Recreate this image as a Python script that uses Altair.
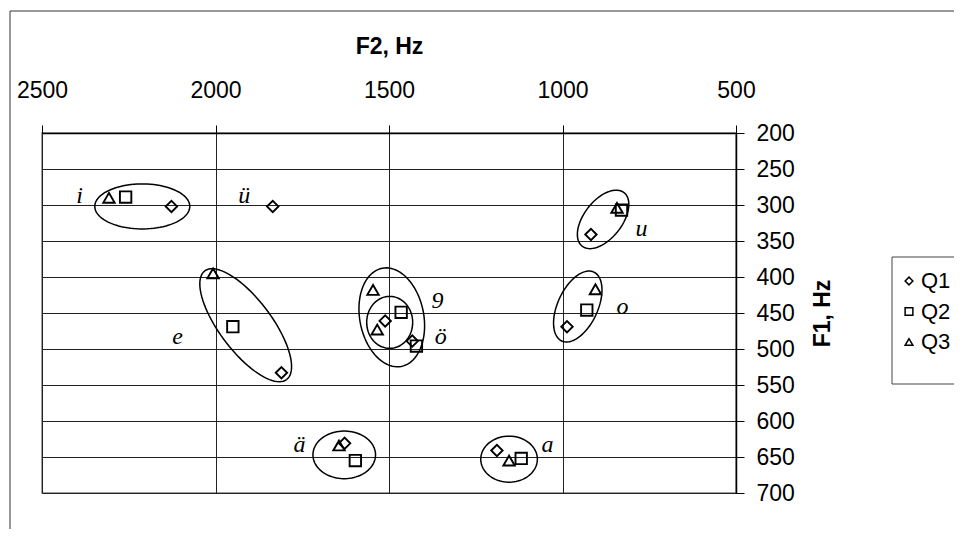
import math
import numpy as np
import pandas as pd
import altair as alt

# ---- data ----
vowels = ["i", "ü", "e", "9", "ö", "ä", "a", "o", "u"]
q1_f2 = [2127, 1835, 1810, 1511, 1433, 1628, 1189, 987, 918]
q1_f1 = [302, 302, 533, 461, 489, 631, 641, 469, 341]
q2_f2 = [2259, None, 1950, 1465, 1421, 1597, 1119, 930, 830]
q2_f1 = [289, None, 469, 449, 496, 655, 652, 446, 307]
q3_f2 = [2307, None, 2007, 1534, 1546, 1644, 1154, 905, 843]
q3_f1 = [290, None, 395, 473, 418, 634, 655, 417, 304]

series = ["Q1", "Q2", "Q3"]
shapes = ["diamond", "square", "triangle-up"]

label_f2 = [2392, 1917, 2109, 1360, 1351, 1758, 1043, 827, 772]
label_f1 = [288, 288, 484, 434, 484, 634, 634, 441, 334]

x_ticks = [2500, 2000, 1500, 1000, 500]
y_ticks = [200, 250, 300, 350, 400, 450, 500, 550, 600, 650, 700]

# ellipse annotations: centre (F2, F1), semi-axes (px), rotation (deg)
ell_names = ["i", "e", "9in", "9out", "ä", "a", "o", "u"]
ell_cf2 = [2211, 1913, 1498, 1492, 1629, 1154, 956, 883]
ell_cf1 = [302, 467, 463, 456, 647, 653, 441, 320]
ell_a = [47.5, 68, 23, 50, 31.3, 28.3, 38, 34]
ell_b = [22.5, 26, 26, 32, 23.8, 23, 20, 19]
ell_rot = [0, 53, 0, 79, 0, 0, -65, -52]

W, H = 694, 360
hz_per_px_x = (x_ticks[0] - x_ticks[-1]) / W
hz_per_px_y = (y_ticks[-1] - y_ticks[0]) / H

# ---- tables ----
rows = []
for q, f2s, f1s in zip(series, [q1_f2, q2_f2, q3_f2], [q1_f1, q2_f1, q3_f1]):
    for v, a, b in zip(vowels, f2s, f1s):
        if a is not None:
            rows.append({"vowel": v, "Q": q, "F2": a, "F1": b})
pts_df = pd.DataFrame(rows)

lab_df = pd.DataFrame({"v": vowels, "F2": label_f2, "F1": label_f1})

erows = []
ts = np.linspace(0, 2 * np.pi, 91)
for n, cx, cy, a, b, r in zip(ell_names, ell_cf2, ell_cf1, ell_a, ell_b, ell_rot):
    th = math.radians(r)
    for k, t in enumerate(ts):
        px = a * math.cos(t) * math.cos(th) - b * math.sin(t) * math.sin(th)
        py = a * math.cos(t) * math.sin(th) + b * math.sin(t) * math.cos(th)
        erows.append({"ell": n, "k": k, "F2": cx - px * hz_per_px_x, "F1": cy + py * hz_per_px_y})
ell_df = pd.DataFrame(erows)

one = pd.DataFrame({"z": [0]})

# ---- scales / axes ----
FONT = "Liberation Sans"
xs = alt.Scale(domain=[x_ticks[0], x_ticks[-1]], nice=False, zero=False)
ys = alt.Scale(domain=[y_ticks[0], y_ticks[-1]], nice=False, zero=False, reverse=True)

xaxis = alt.Axis(orient="top", values=x_ticks, format="d", labelFont=FONT, labelFontSize=23,
                 labelColor="black", labelPadding=23, labelFlush=False, labelOverlap=False,
                 tickSize=8, tickColor="black", tickWidth=1, domainColor="black", domainWidth=1.5,
                 grid=True, gridColor="#222", gridWidth=1,
                 title="F2, Hz", titleFont=FONT, titleFontSize=23, titleFontWeight="bold",
                 titleColor="black", titlePadding=21)
yaxis = alt.Axis(orient="right", values=y_ticks, format="d", labelFont=FONT, labelFontSize=23,
                 labelColor="black", labelPadding=12, labelOverlap=False,
                 tickSize=8, tickColor="black", tickWidth=1, domainColor="black", domainWidth=1.5,
                 grid=True, gridColor="#222", gridWidth=1,
                 title="F1, Hz", titleFont=FONT, titleFontSize=23, titleFontWeight="bold",
                 titleColor="black", titleAngle=270, titlePadding=40)

X = alt.X("F2:Q", scale=xs, axis=xaxis)
Y = alt.Y("F1:Q", scale=ys, axis=yaxis)

ellipses = alt.Chart(ell_df).mark_line(color="black", strokeWidth=1.5).encode(
    x=X, y=Y, detail="ell:N", order="k:Q")

points = alt.Chart(pts_df).mark_point(filled=False, color="black", strokeWidth=1.9, size=130,
                                      opacity=1).encode(
    x=X, y=Y,
    shape=alt.Shape("Q:N", scale=alt.Scale(domain=series, range=shapes),
                    legend=alt.Legend(orient="none", legendX=856, legendY=137, title=None,
                                      labelFont=FONT, labelFontSize=22, labelColor="black",
                                      symbolSize=60, symbolStrokeWidth=1.5,
                                      symbolStrokeColor="black", rowPadding=8.5, padding=0,
                                      labelOffset=1)))

labels = alt.Chart(lab_df).mark_text(font="Liberation Serif", fontStyle="italic", fontSize=24,
                                     color="black").encode(x=X, y=Y, text="v:N")

frame_top = alt.Chart(one).mark_rule(color="#333", strokeWidth=1).encode(
    x=alt.value(-32), x2=alt.value(918), y=alt.value(-122))
frame_left = alt.Chart(one).mark_rule(color="#333", strokeWidth=1).encode(
    x=alt.value(-32), y=alt.value(-122), y2=alt.value(396))
legend_box = alt.Chart(one).mark_rect(fillOpacity=0, stroke="#444", strokeWidth=1).encode(
    x=alt.value(850), x2=alt.value(930), y=alt.value(124), y2=alt.value(251))

chart = alt.layer(ellipses, points, labels, frame_top, frame_left, legend_box).properties(
    width=W, height=H,
    autosize=alt.AutoSizeParams(type="none"),
    padding={"left": 34, "top": 125, "right": 218, "bottom": 36},
    background="white",
).configure_view(stroke="#808080", strokeWidth=1.5)

chart.save("out.html", embed_options={"renderer": "svg", "actions": False})
